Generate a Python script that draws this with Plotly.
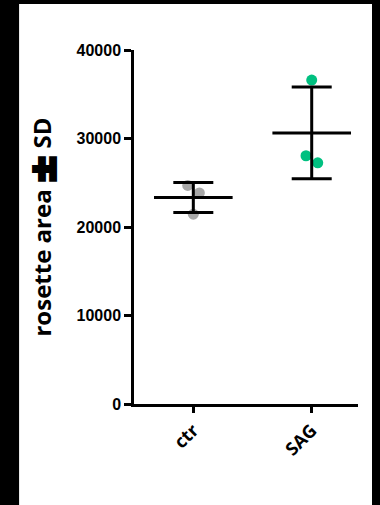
import numpy as np
import plotly.graph_objects as go

categories = ["ctr", "SAG"]
ctr_values = [24700, 23850, 21450]
sag_values = [36600, 28050, 27250]
ctr_jitter = [-0.047, 0.051, 0.0]
sag_jitter = [0.0, -0.048, 0.051]
y_ticks = [0, 10000, 20000, 30000, 40000]

groups = [ctr_values, sag_values]
jitters = [ctr_jitter, sag_jitter]
colors = ["#A8A8A8", "#00C080"]

fig = go.Figure()

for i, (vals, jit, col) in enumerate(zip(groups, jitters, colors)):
    fig.add_trace(go.Scatter(
        x=[i + j for j in jit], y=vals, mode="markers",
        marker=dict(color=col, size=11, line=dict(width=0)),
        showlegend=False, hoverinfo="skip"))

for i, vals in enumerate(groups):
    m = float(np.mean(vals))
    sd = float(np.std(vals, ddof=1))
    fig.add_trace(go.Scatter(
        x=[i - 0.332, i + 0.332], y=[m, m], mode="lines",
        line=dict(color="black", width=3), showlegend=False, hoverinfo="skip"))
    fig.add_trace(go.Scatter(
        x=[i], y=[m], mode="markers", marker=dict(size=1, color="rgba(0,0,0,0)"),
        error_y=dict(type="data", array=[sd], color="black", thickness=3, width=20),
        showlegend=False, hoverinfo="skip"))

fig.update_layout(
    width=380, height=505,
    margin=dict(l=134, r=22, t=50, b=100.5),
    paper_bgcolor="black", plot_bgcolor="white",
    shapes=[dict(type="rect", xref="paper", yref="paper",
                 x0=-0.513, x1=1.0625, y0=-0.4, y1=1.13,
                 fillcolor="white", line=dict(width=0), layer="below")],
)

fig.update_xaxes(
    range=[-0.501, 1.391], showgrid=False, zeroline=False,
    showline=True, linecolor="black", linewidth=2.5,
    tickmode="array", tickvals=[0, 1], ticktext=categories,
    ticks="outside", ticklen=6, tickwidth=2.5, tickcolor="black",
    tickangle=-45,
    tickfont=dict(family="Open Sans", size=18, color="black", weight="bold"),
)
fig.update_yaxes(
    range=[0, 40000], showgrid=False, zeroline=False,
    showline=True, linecolor="black", linewidth=2.5,
    tickmode="array", tickvals=y_ticks, ticktext=[str(v) for v in y_ticks],
    ticks="outside", ticklen=7, tickwidth=2.5, tickcolor="black",
    tickfont=dict(family="Liberation Sans", size=16, color="black", weight="bold"),
    title=dict(text="rosette area <span style='font-family:DejaVu Sans;font-size:34px;font-weight:900;stroke:black;stroke-width:4px;baseline-shift:-4px'>±</span> SD",
               standoff=19,
               font=dict(family="Open Sans", size=24, color="black", weight="bold")),
)

fig.write_html("out.html", config={"displayModeBar": False},
               post_script="document.body.style.margin='0';document.body.style.background='black';")
